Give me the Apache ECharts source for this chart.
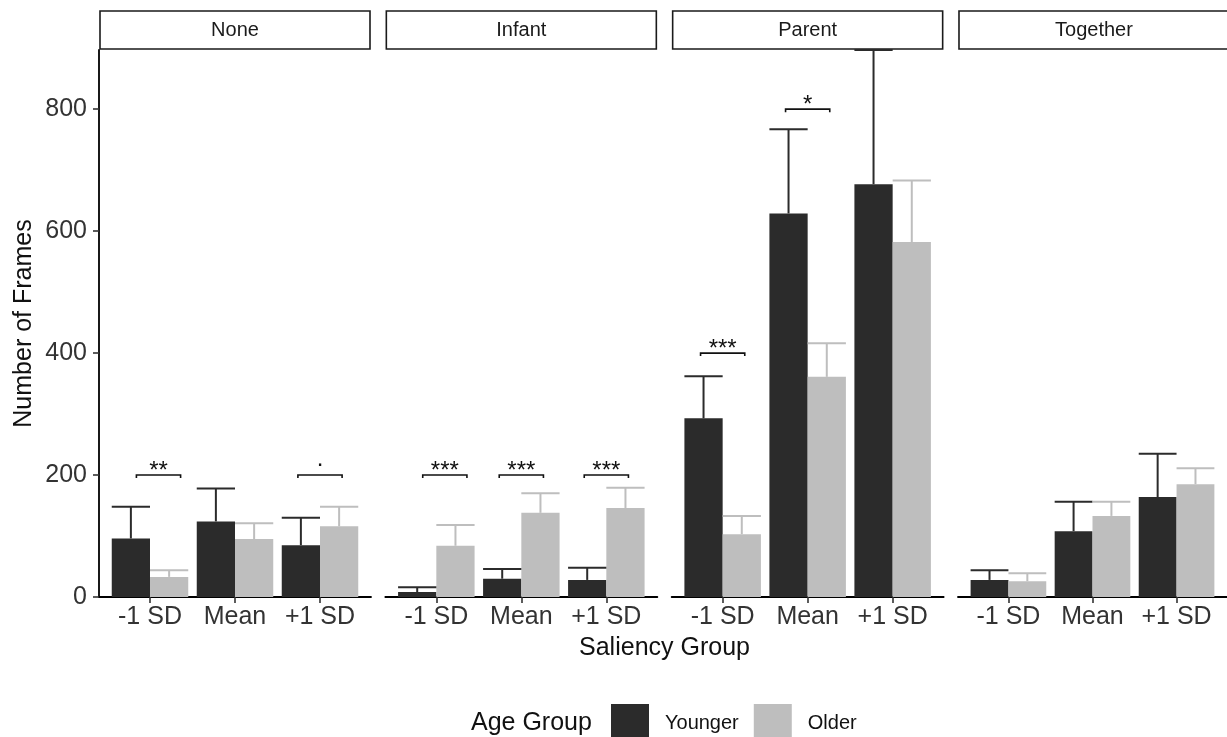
<!DOCTYPE html>
<html>
<head>
<meta charset="utf-8">
<script src="https://cdn.jsdelivr.net/npm/echarts@6/dist/echarts.min.js"></script>
<style>
html,body{margin:0;padding:0;background:#fff;}
#chart{width:1227px;height:737px;}
</style>
</head>
<body>
<div id="chart"></div>
<script>
// ---------------- data ----------------
const facets = ['None', 'Infant', 'Parent', 'Together'];
const categories = ['-1 SD', 'Mean', '+1 SD'];
const ageGroups = ['Younger', 'Older'];
const yTicks = [0, 200, 400, 600, 800];

// bar heights per facet (rows) and saliency group (cols)
const youngerMean  = [[96, 124, 85], [8, 30, 28], [293, 629, 677], [28, 108, 164]];
const youngerUpper = [[148, 178, 130], [16, 46, 48], [362, 767, 897], [44, 156, 235]];
const olderMean    = [[33, 95, 116], [84, 138, 146], [103, 361, 582], [26, 133, 185]];
const olderUpper   = [[44, 121, 148], [118, 170, 179], [133, 416, 683], [39, 156, 211]];

// significance brackets: facet, saliency group, height, label, bracket ends (category units, relative)
const sigFacet = [0, 0, 1, 1, 1, 2, 2];
const sigCat   = [0, 2, 0, 1, 2, 0, 1];
const sigY     = [200, 200, 200, 200, 200, 400, 800];
const sigLabel = ['**', '.', '***', '***', '***', '***', '*'];
const sigFrom  = [-0.16, -0.26, -0.16, -0.26, -0.26, -0.26, -0.26];
const sigTo    = [0.36, 0.26, 0.36, 0.26, 0.26, 0.26, 0.26];

// ---------------- styling / layout ----------------
const FONT = "'Liberation Sans', Arial, Helvetica, sans-serif";
const colYoung = '#2b2b2b';
const colOld = '#bebebe';
const Y_MAX = 897;
const panelLeft0 = 99, panelW = 272, panelStep = 286.33;
const gridTop = 50, gridBottom = 140;
const halfBar = 0.225;

const chart = echarts.init(document.getElementById('chart'), null, {renderer: 'canvas'});

const grids = [], xAxes = [], yAxes = [], series = [], graphics = [];

facets.forEach((f, fi) => {
  const left = panelLeft0 + fi * panelStep;
  grids.push({left: left, top: gridTop, width: panelW, bottom: gridBottom, containLabel: false});
  xAxes.push({
    type: 'value', gridIndex: fi, min: -0.6, max: 2.6,
    splitLine: {show: false},
    axisLine: {show: true, onZero: false, lineStyle: {color: '#000', width: 1.8}},
    axisTick: {show: true, length: 6, customValues: [0, 1, 2], lineStyle: {color: '#333', width: 1.6}},
    axisLabel: {show: true, customValues: [0, 1, 2], margin: 8,
      formatter: v => categories[Math.round(v)],
      fontSize: 25, fontFamily: FONT, color: '#333'}
  });
  yAxes.push({
    type: 'value', gridIndex: fi, min: 0, max: Y_MAX,
    show: fi === 0,
    splitLine: {show: false},
    axisLine: {show: fi === 0, onZero: false, lineStyle: {color: '#000', width: 1.8}},
    axisTick: {show: fi === 0, length: 6, customValues: yTicks, lineStyle: {color: '#333', width: 1.6}},
    axisLabel: {show: fi === 0, customValues: yTicks, margin: 12, fontSize: 25, fontFamily: FONT, color: '#333'},
    name: fi === 0 ? 'Number of Frames' : '',
    nameLocation: 'middle', nameGap: 62,
    nameTextStyle: {fontSize: 25, fontFamily: FONT, color: '#111'}
  });

  // bars
  [[youngerMean, colYoung, -halfBar, 'Younger'], [olderMean, colOld, halfBar, 'Older']].forEach(([arr, col, off, nm]) => {
    series.push({
      type: 'custom', name: nm, xAxisIndex: fi, yAxisIndex: fi,
      itemStyle: {color: col},
      encode: {x: 0, y: 1},
      data: categories.map((c, ci) => [ci, arr[fi][ci]]),
      renderItem: (params, api) => {
        const x = api.value(0), v = api.value(1);
        const p0 = api.coord([x + off - halfBar, v]);
        const p1 = api.coord([x + off + halfBar, 0]);
        return {type: 'rect', shape: {x: p0[0], y: p0[1], width: p1[0] - p0[0], height: p1[1] - p0[1]},
          style: {fill: col}};
      }
    });
  });
  // error bars (upper)
  [[youngerMean, youngerUpper, colYoung, -halfBar], [olderMean, olderUpper, colOld, halfBar]].forEach(([mArr, uArr, col, off]) => {
    series.push({
      type: 'custom', xAxisIndex: fi, yAxisIndex: fi, silent: true,
      encode: {x: 0, y: [1, 2]},
      data: categories.map((c, ci) => [ci, mArr[fi][ci], uArr[fi][ci]]),
      renderItem: (params, api) => {
        const x = api.value(0), m = api.value(1), u = api.value(2);
        const pb = api.coord([x + off, m]);
        const pt = api.coord([x + off, u]);
        const cl = api.coord([x + off - halfBar, u]);
        const cr = api.coord([x + off + halfBar, u]);
        return {type: 'group', children: [
          {type: 'line', shape: {x1: pb[0], y1: pb[1], x2: pt[0], y2: pt[1]}, style: {stroke: col, lineWidth: 2}},
          {type: 'line', shape: {x1: cl[0], y1: cl[1], x2: cr[0], y2: cr[1]}, style: {stroke: col, lineWidth: 2}}
        ]};
      }
    });
  });
  // significance brackets
  const idx = sigFacet.map((v, i) => v === fi ? i : -1).filter(i => i >= 0);
  if (idx.length) {
    series.push({
      type: 'custom', xAxisIndex: fi, yAxisIndex: fi, silent: true,
      encode: {x: [0, 1], y: 2},
      data: idx.map(i => [sigCat[i] + sigFrom[i], sigCat[i] + sigTo[i], sigY[i]]),
      renderItem: (params, api) => {
        const i = idx[params.dataIndex];
        const a = api.coord([api.value(0), api.value(2)]);
        const b = api.coord([api.value(1), api.value(2)]);
        const lab = sigLabel[i];
        const shift = lab === '.' ? 16 : 4;
        return {type: 'group', children: [
          {type: 'polyline', shape: {points: [[a[0], a[1] + 3], [a[0], a[1]], [b[0], b[1]], [b[0], b[1] + 3]]},
            style: {stroke: '#111', lineWidth: 1.6, fill: null}},
          {type: 'text', x: (a[0] + b[0]) / 2, y: a[1] - shift,
            style: {text: lab, fontSize: 24, fontFamily: FONT, fill: '#111', align: 'center', verticalAlign: 'middle'}}
        ]};
      }
    });
  }
  // strip
  graphics.push({
    type: 'group', x: left + 1, y: 11, children: [
      {type: 'rect', shape: {x: 0, y: 0, width: panelW - 2, height: 38}, style: {fill: '#fff', stroke: '#1a1a1a', lineWidth: 1.6}},
      {type: 'text', x: (panelW - 2) / 2, y: 19, style: {text: f, fontSize: 20, fontFamily: FONT, fill: '#1a1a1a', align: 'center', verticalAlign: 'middle'}}
    ]
  });
});

// axis title & legend title
graphics.push({type: 'text', x: 664.5, y: 648, style: {text: 'Saliency Group', fontSize: 25, fontFamily: FONT, fill: '#111', align: 'center', verticalAlign: 'middle'}});
graphics.push({type: 'text', x: 471, y: 723, style: {text: 'Age Group', fontSize: 25, fontFamily: FONT, fill: '#111', align: 'left', verticalAlign: 'middle'}});

chart.setOption({
  animation: false,
  backgroundColor: '#fff',
  grid: grids,
  xAxis: xAxes,
  yAxis: yAxes,
  series: series,
  graphic: graphics,
  legend: {
    left: 611, top: 704, padding: 0, itemGap: 15,
    itemWidth: 38, itemHeight: 38,
    data: [
      {name: 'Younger', icon: 'rect', itemStyle: {color: colYoung}},
      {name: 'Older', icon: 'rect', itemStyle: {color: colOld}}
    ],
    textStyle: {fontSize: 20, fontFamily: FONT, color: '#111', padding: [0, 0, 0, 11]}
  }
});
</script>
</body>
</html>
